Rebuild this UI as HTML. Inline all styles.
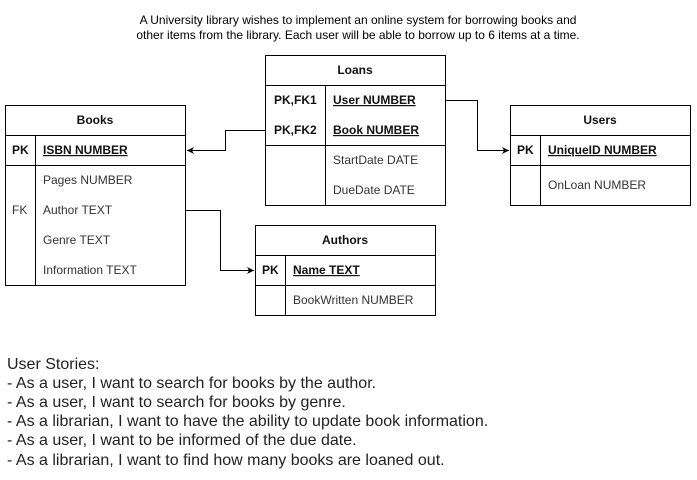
<!DOCTYPE html>
<html><head><meta charset="utf-8"><style>
html,body{margin:0;padding:0;background:#fff;}
svg{display:block;font-family:"Liberation Sans",Arial,sans-serif;}
.t{font-size:12px;fill:#000;}
.b{font-weight:bold;fill:#111;}
.f{font-size:12px;fill:#333;}
.s{font-size:16px;fill:#222;}
</style></head><body>
<svg width="697" height="480" viewBox="0 0 697 480" xmlns="http://www.w3.org/2000/svg">
<defs><marker id="a" markerWidth="8" markerHeight="8" refX="7" refY="4" orient="auto" markerUnits="userSpaceOnUse"><path d="M0,0.5 L7,4 L0,7.5 L2,4 Z" fill="#000"/></marker></defs>
<text class="t" x="358" y="24" text-anchor="middle">A University library wishes to implement an online system for borrowing books and</text>
<text class="t" x="358" y="39" text-anchor="middle">other items from the library. Each user will be able to borrow up to 6 items at a time.</text>
<g fill="none" stroke="#000" stroke-width="1">
<rect x="5.5" y="105.5" width="180" height="180"/>
<line x1="5.5" y1="135.5" x2="185.5" y2="135.5"/><line x1="5.5" y1="165.5" x2="185.5" y2="165.5"/>
<line x1="35.5" y1="135.5" x2="35.5" y2="285.5"/>
<rect x="265.5" y="55.5" width="180" height="150"/>
<line x1="265.5" y1="85.5" x2="445.5" y2="85.5"/><line x1="265.5" y1="145.5" x2="445.5" y2="145.5"/>
<line x1="325.5" y1="85.5" x2="325.5" y2="205.5"/>
<rect x="510.5" y="105.5" width="180" height="100"/>
<line x1="510.5" y1="135.5" x2="690.5" y2="135.5"/><line x1="510.5" y1="165.5" x2="690.5" y2="165.5"/>
<line x1="540.5" y1="135.5" x2="540.5" y2="205.5"/>
<rect x="255.5" y="225.5" width="180" height="90"/>
<line x1="255.5" y1="255.5" x2="435.5" y2="255.5"/><line x1="255.5" y1="285.5" x2="435.5" y2="285.5"/>
<line x1="285.5" y1="255.5" x2="285.5" y2="315.5"/>
<path d="M265.5,130.5 H225.5 V150.5 H187" marker-end="url(#a)"/>
<path d="M445.5,100.5 H477.5 V150.5 H509" marker-end="url(#a)"/>
<path d="M185.5,210.5 H220.5 V270.5 H254" marker-end="url(#a)"/>
</g>
<g class="t b">
<text x="95" y="124" text-anchor="middle">Books</text>
<text x="355" y="74" text-anchor="middle">Loans</text>
<text x="600" y="124" text-anchor="middle">Users</text>
<text x="345" y="244" text-anchor="middle">Authors</text>
<text x="12" y="154">PK</text>
<text x="43" y="154" text-decoration="underline">ISBN NUMBER</text>
<text x="274" y="104">PK,FK1</text>
<text x="333" y="104" text-decoration="underline">User NUMBER</text>
<text x="274" y="134">PK,FK2</text>
<text x="333" y="134" text-decoration="underline">Book NUMBER</text>
<text x="517" y="154">PK</text>
<text x="548" y="154" text-decoration="underline">UniqueID NUMBER</text>
<text x="262" y="274">PK</text>
<text x="293" y="274" text-decoration="underline">Name TEXT</text>
</g>
<g class="f">
<text x="43" y="184">Pages NUMBER</text>
<text x="12" y="214">FK</text>
<text x="43" y="214">Author TEXT</text>
<text x="43" y="244">Genre TEXT</text>
<text x="43" y="274">Information TEXT</text>
<text x="333" y="164">StartDate DATE</text>
<text x="333" y="194">DueDate DATE</text>
<text x="548" y="189">OnLoan NUMBER</text>
<text x="293" y="304">BookWritten NUMBER</text>
</g>
<g class="s">
<text x="7" y="369">User Stories:</text>
<text x="7" y="388">- As a user, I want to search for books by the author.</text>
<text x="7" y="407">- As a user, I want to search for books by genre.</text>
<text x="7" y="426">- As a librarian, I want to have the ability to update book information.</text>
<text x="7" y="445">- As a user, I want to be informed of the due date.</text>
<text x="7" y="465">- As a librarian, I want to find how many books are loaned out.</text>
</g>
</svg>
</body></html>
